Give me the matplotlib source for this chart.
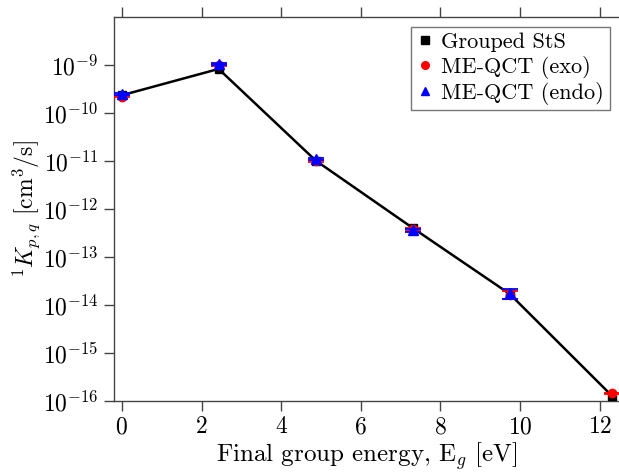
import numpy as np
import matplotlib
matplotlib.use("Agg")
import matplotlib.pyplot as plt
from matplotlib.ticker import FuncFormatter, NullLocator
from matplotlib.lines import Line2D

plt.rcParams['mathtext.fontset'] = 'cm'
plt.rcParams['font.family'] = ['cmr10', 'DejaVu Serif']
plt.rcParams['axes.formatter.use_mathtext'] = True

# Data
energy = [0.0, 2.43, 4.87, 7.31, 9.74, 12.30]
k_sts = [2.35e-10, 8.3e-10, 1.02e-11, 4.0e-13, 1.7e-14, 1.3e-16]
k_exo = [2.2e-10, 1.0e-9, 1.0e-11, 3.75e-13, 1.65e-14, 1.45e-16]
k_exo_err = [0.08e-10, 0.03e-9, 0.03e-11, 0.2e-13, 0.3e-14, 0.05e-16]
k_endo = [2.5e-10, 1.05e-9, 1.1e-11, 3.6e-13, 1.75e-14, np.nan]
k_endo_err = [0.08e-10, 0.03e-9, 0.03e-11, 0.2e-13, 0.4e-14, np.nan]
labels = ['Grouped StS', 'ME-QCT (exo)', 'ME-QCT (endo)']

fig = plt.figure(figsize=(6.19, 4.74), dpi=100)
ax = fig.add_axes([0.184, 0.154, 0.817, 0.810])

ax.plot(energy, k_sts, color='black', lw=1.8, marker='s', ms=6, zorder=3)
ax.errorbar(energy, k_exo, yerr=k_exo_err, fmt='o', color='#ff0000', ms=6,
            capsize=6, elinewidth=1.3, capthick=1.3, lw=0, zorder=4)
ax.errorbar(energy, k_endo, yerr=k_endo_err, fmt='^', color='#0000ff', ms=6.5,
            capsize=6, elinewidth=1.3, capthick=1.3, lw=0, zorder=5)

ax.set_yscale('log')
ax.set_ylim(1e-16, 1e-8)
ax.set_xlim(-0.2, 12.5)
ax.set_xticks([0, 2, 4, 6, 8, 10, 12])
ax.xaxis.set_major_formatter(FuncFormatter(lambda v, p: r'$%d$' % round(v)))
ax.set_yticks([1e-16, 1e-15, 1e-14, 1e-13, 1e-12, 1e-11, 1e-10, 1e-9])
ax.yaxis.set_major_formatter(FuncFormatter(lambda v, p: r'$10^{%d}$' % round(np.log10(v))))
ax.yaxis.set_minor_locator(NullLocator())

spine_col = '#444444'
for s in ['left', 'top', 'bottom']:
    ax.spines[s].set_color(spine_col)
    ax.spines[s].set_linewidth(1.0)
ax.spines['right'].set_visible(False)
ax.tick_params(axis='both', which='major', direction='out', length=7,
               width=1.0, color=spine_col, labelsize=17, pad=4)
ax.tick_params(axis='x', top=True)

ax.set_xlabel(r'Final group energy, E$_g$ [eV]', fontsize=18, labelpad=1)
ax.set_ylabel(r'$^{1}K_{p,q}$ [cm$^3$/s]', fontsize=17, labelpad=1)

handles = [
    Line2D([], [], ls='none', marker='s', color='black', ms=5.5),
    Line2D([], [], ls='none', marker='o', color='#ff0000', ms=5.5),
    Line2D([], [], ls='none', marker='^', color='#0000ff', ms=6),
]
leg = ax.legend(handles, labels, loc='upper right', fontsize=16, frameon=True,
                fancybox=False, borderpad=0.25, labelspacing=0.15,
                handlelength=0.7, handletextpad=0.4, borderaxespad=0.45)
leg.get_frame().set_edgecolor('#555555')
leg.get_frame().set_linewidth(1.0)

fig.savefig('out.png', dpi=100)
